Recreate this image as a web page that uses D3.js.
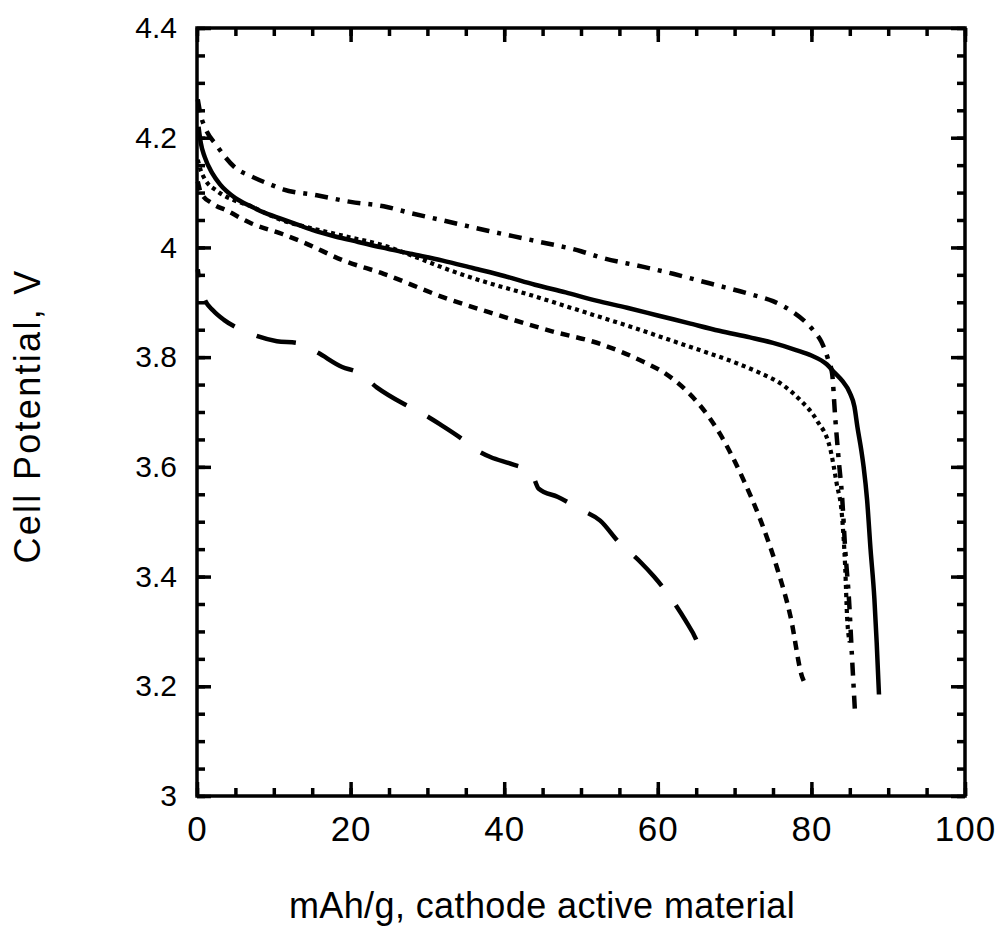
<!DOCTYPE html>
<html>
<head>
<meta charset="utf-8">
<script src="https://cdn.jsdelivr.net/npm/d3@7"></script>
<style>
  body { margin: 0; background: #fff; }
  svg { display: block; font-family: "Liberation Sans", Arial, sans-serif; }
</style>
</head>
<body>
<svg id="chart" width="1003" height="934"></svg>
<script>
// tick values
const xTicks = [0, 20, 40, 60, 80, 100];
const yTicks = [3, 3.2, 3.4, 3.6, 3.8, 4, 4.2, 4.4];

// discharge curves: [mAh/g, V]
const solidCurve = [
  [0.2, 4.22], [0.5, 4.19], [1, 4.165], [2, 4.135], [3, 4.115], [5, 4.09], [7, 4.075],
  [9, 4.062], [11, 4.052], [13, 4.042], [15, 4.032], [18, 4.02], [21, 4.01], [24, 4.0],
  [28, 3.988], [32, 3.976], [36, 3.962], [40, 3.948], [44, 3.932], [48, 3.918], [52, 3.903],
  [56, 3.89], [60, 3.876], [64, 3.862], [68, 3.848], [72, 3.836], [75, 3.826], [78, 3.813],
  [80, 3.803], [82, 3.787], [83, 3.772], [84, 3.757], [85, 3.735], [85.6, 3.71], [86, 3.672],
  [86.5, 3.63], [86.8, 3.6], [87.25, 3.54], [87.7, 3.45], [88.2, 3.36], [88.5, 3.28], [88.8, 3.185]
];
const dashDotCurve = [
  [0.1, 4.27], [0.5, 4.24], [1, 4.22], [2.6, 4.185], [5, 4.145], [7, 4.13], [9.5, 4.115],
  [11.2, 4.106], [15.6, 4.095], [20, 4.083], [24.3, 4.075], [28, 4.062], [32.1, 4.049],
  [38, 4.03], [44, 4.012], [50, 3.993], [52.5, 3.982], [58, 3.965], [62, 3.952], [65.5, 3.939],
  [68, 3.93], [72, 3.915], [75, 3.902], [77.3, 3.885], [79, 3.867], [80.3, 3.848], [81.3, 3.828],
  [82.2, 3.795], [82.7, 3.77], [83.1, 3.69], [83.56, 3.612], [84, 3.545], [84.4, 3.45],
  [84.9, 3.357], [85.3, 3.25], [85.7, 3.147]
];
const dottedCurve = [
  [0.1, 4.16], [0.5, 4.14], [1, 4.125], [2.6, 4.103], [5, 4.085], [6.9, 4.076], [9, 4.062],
  [11.2, 4.049], [14, 4.038], [17, 4.028], [20, 4.018], [24, 4.005], [28, 3.985], [33, 3.958],
  [38, 3.935], [43, 3.915], [48, 3.893], [52.5, 3.873], [57, 3.853], [61.2, 3.833], [65, 3.815],
  [69.9, 3.791], [73, 3.773], [76.4, 3.748], [78.6, 3.721], [80.7, 3.685], [82.5, 3.63],
  [83.3, 3.569], [84, 3.508], [84.4, 3.417], [84.65, 3.326], [85, 3.28]
];
const dashedCurve = [
  [0.1, 4.12], [0.5, 4.1], [2, 4.08], [3.9, 4.067], [6.9, 4.045], [11.2, 4.024], [13.9, 4.009],
  [19.1, 3.976], [24.3, 3.952], [32.1, 3.909], [38, 3.882], [46, 3.848], [52.5, 3.824],
  [58.2, 3.791], [61, 3.77], [63.8, 3.738], [65.5, 3.712], [68.1, 3.66], [71.2, 3.575],
  [73.4, 3.502], [75.5, 3.417], [77.3, 3.326], [78.8, 3.217], [79, 3.21]
];
const longDashCurve = [
  [0.1, 3.96], [0.4, 3.93], [1, 3.905], [2.1, 3.885], [3.5, 3.868], [5, 3.855], [7.1, 3.842],
  [10.4, 3.829], [13, 3.826], [15.6, 3.809], [18.9, 3.782], [21, 3.772], [23.4, 3.745],
  [26.9, 3.715], [29, 3.7], [31.7, 3.677], [34.5, 3.651], [36.5, 3.63], [38.2, 3.618],
  [41, 3.605], [43.5, 3.59], [44.5, 3.56], [47, 3.545], [50, 3.522], [52.5, 3.502],
  [54.9, 3.463], [57.7, 3.427], [59.5, 3.4], [61.6, 3.363], [63.6, 3.32], [65, 3.285], [66, 3.245]
];

const width = 1003;
const height = 934;
const margin = { top: 28, right: 38, bottom: 138, left: 197 };

const svg = d3.select('#chart');

// Scales
const x = d3.scaleLinear().domain([0, 100]).range([margin.left, width - margin.right]);
const y = d3.scaleLinear().domain([3, 4.4]).range([height - margin.bottom, margin.top]);

const xMinor = d3.range(0, 100.01, 5);
const yMinor = d3.range(3, 4.401, 0.05);
const fmt = d => String(+d.toFixed(1));

// Minor ticks on all four sides
const minorAxes = [
  [d3.axisBottom(x).tickValues(xMinor), `translate(0,${y(3)})`],
  [d3.axisTop(x).tickValues(xMinor), `translate(0,${y(4.4)})`],
  [d3.axisLeft(y).tickValues(yMinor), `translate(${x(0)},0)`],
  [d3.axisRight(y).tickValues(yMinor), `translate(${x(100)},0)`]
];
minorAxes.forEach(([axis, tr]) => {
  svg.append('g')
    .attr('transform', tr)
    .call(axis.tickSize(-8).tickFormat(''))
    .call(g => g.select('.domain').remove())
    .selectAll('line').attr('stroke', '#000').attr('stroke-width', 3.5);
});

// Major ticks
const xAxisG = svg.append('g')
  .attr('transform', `translate(0,${y(3)})`)
  .call(d3.axisBottom(x).tickValues(xTicks).tickSize(-14).tickPadding(20).tickFormat(fmt))
  .call(g => g.select('.domain').remove());

svg.append('g')
  .attr('transform', `translate(0,${y(4.4)})`)
  .call(d3.axisTop(x).tickValues(xTicks).tickSize(-14).tickFormat(''))
  .call(g => g.select('.domain').remove());

const yAxisG = svg.append('g')
  .attr('transform', `translate(${x(0)},0)`)
  .call(d3.axisLeft(y).tickValues(yTicks).tickSize(-14).tickPadding(20).tickFormat(fmt))
  .call(g => g.select('.domain').remove());

svg.append('g')
  .attr('transform', `translate(${x(100)},0)`)
  .call(d3.axisRight(y).tickValues(yTicks).tickSize(-14).tickFormat(''))
  .call(g => g.select('.domain').remove());

svg.selectAll('.tick line').attr('stroke', '#000').attr('stroke-width', 3.5);
svg.selectAll('.tick text')
  .attr('fill', '#000')
  .style('font-family', '"Liberation Sans", Arial, sans-serif');
yAxisG.selectAll('.tick text').style('font-size', '30px');
xAxisG.selectAll('.tick text').style('font-size', '35px').style('letter-spacing', '1px');

// Frame
svg.append('rect')
  .attr('x', x(0))
  .attr('y', y(4.4))
  .attr('width', x(100) - x(0))
  .attr('height', y(3) - y(4.4))
  .attr('fill', 'none')
  .attr('stroke', '#000')
  .attr('stroke-width', 3.5);

// Curves
const line = d3.line()
  .x(d => x(d[0]))
  .y(d => y(d[1]))
  .curve(d3.curveMonotoneX);

const curves = [
  { data: longDashCurve, dash: '40,24', offset: 32, w: 4.5 },
  { data: dashedCurve, dash: '9,7', offset: 0, w: 4.5 },
  { data: dottedCurve, dash: '4,4', offset: 0, w: 4.2 },
  { data: dashDotCurve, dash: '13,8,4,8', offset: 0, w: 4.5 },
  { data: solidCurve, dash: null, offset: 0, w: 4.5 }
];

curves.forEach(c => {
  svg.append('path')
    .datum(c.data)
    .attr('fill', 'none')
    .attr('stroke', '#000')
    .attr('stroke-width', c.w)
    .attr('stroke-dasharray', c.dash)
    .attr('stroke-dashoffset', c.offset)
    .attr('d', line);
});

// Axis titles
svg.append('text')
  .attr('x', 542)
  .attr('y', 918)
  .attr('text-anchor', 'middle')
  .style('font-size', '36px')
  .style('letter-spacing', '0.4px')
  .text('mAh/g, cathode active material');

svg.append('text')
  .attr('transform', `translate(40,${416})rotate(-90)`)
  .attr('text-anchor', 'middle')
  .style('font-size', '36px')
  .style('letter-spacing', '2.3px')
  .text('Cell Potential, V');
</script>
</body>
</html>
